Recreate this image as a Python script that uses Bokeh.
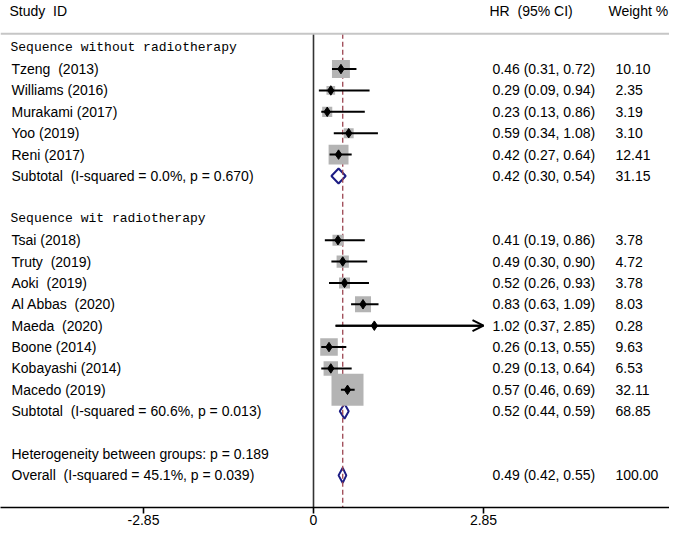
from bokeh.plotting import figure
from bokeh.models import Range1d, FixedTicker, Span, Arrow, OpenHead, LinearAxis
from bokeh.core.properties import value
from bokeh.embed import file_html
from bokeh.resources import INLINE

NB = "\u00a0"

# ---------------- data ----------------
group_labels = ["Sequence without radiotherapy", "Sequence wit radiotherapy"]
studies = ["Tzeng  (2013)", "Williams (2016)", "Murakami (2017)", "Yoo (2019)", "Reni (2017)",
           "Tsai (2018)", "Truty  (2019)", "Aoki  (2019)", "Al Abbas  (2020)", "Maeda  (2020)",
           "Boone (2014)", "Kobayashi (2014)", "Macedo (2019)"]
hr = [0.46, 0.29, 0.23, 0.59, 0.42, 0.41, 0.49, 0.52, 0.83, 1.02, 0.26, 0.29, 0.57]
lo = [0.31, 0.09, 0.13, 0.34, 0.27, 0.19, 0.30, 0.26, 0.63, 0.37, 0.13, 0.13, 0.46]
hi = [0.72, 0.94, 0.86, 1.08, 0.64, 0.86, 0.90, 0.93, 1.09, 2.85, 0.55, 0.64, 0.69]
weight = [10.10, 2.35, 3.19, 3.10, 12.41, 3.78, 4.72, 3.78, 8.03, 0.28, 9.63, 6.53, 32.11]

pooled_labels = ["Subtotal  (I-squared = 0.0%, p = 0.670)",
                 "Subtotal  (I-squared = 60.6%, p = 0.013)",
                 "Overall  (I-squared = 45.1%, p = 0.039)"]
pooled_hr = [0.42, 0.52, 0.49]
pooled_lo = [0.30, 0.44, 0.42]
pooled_hi = [0.54, 0.59, 0.55]
pooled_weight = [31.15, 68.85, 100.00]

het_label = "Heterogeneity between groups: p = 0.189"
header_labels = ["Study  ID", "HR  (95% CI)", "Weight %"]
x_ticks = [-2.85, 0, 2.85]
overall_hr = 0.49


def keep_spaces(s):
    return s.replace("  ", " " + NB)


# ---------------- layout (rows) ----------------
group_rows = [0, 8]
study_rows = [1, 2, 3, 4, 5, 9, 10, 11, 12, 13, 14, 15, 16]
pooled_rows = [6, 17, 20]
het_row = 19

W, H = 669, 527
AXIS_H = 22
FH = H - AXIS_H
PX_PER_UNIT = 59.65
ZERO_PX = 313.0
ROW_PX = 21.3
ROW0_PX = 47.0


def px_to_x(px):
    return (px - ZERO_PX) / PX_PER_UNIT


def py_to_row(py):
    return (py - ROW0_PX) / ROW_PX


x_start, x_end = px_to_x(0), px_to_x(W)
y_bottom, y_top = py_to_row(FH), py_to_row(0)
TOP_LINE_ROW = py_to_row(33)
HEADER_ROW = py_to_row(10)

p = figure(width=W, height=H, output_backend="svg", toolbar_location=None,
           x_range=Range1d(x_start, x_end), y_range=Range1d(y_bottom, y_top),
           min_border=0, x_axis_location=None, y_axis_location=None)
p.outline_line_color = None
p.xgrid.visible = False
p.ygrid.visible = False
p.background_fill_color = "white"

FONT = value("Liberation Sans")
MONO = value("Liberation Mono")
FS = "14px"

# top rule
p.add_layout(Span(location=TOP_LINE_ROW, dimension="width", line_color="#c6c6c6", line_width=2))

# vertical null line
p.segment(x0=[0], y0=[TOP_LINE_ROW], x1=[0], y1=[y_bottom], line_color="#333333", line_width=1.6)

# pooled diamonds
DIA_HALF = 7.5 / ROW_PX
xs, ys = [], []
for r, e, l, h in zip(pooled_rows, pooled_hr, pooled_lo, pooled_hi):
    xs.append([l, e, h, e])
    ys.append([r, r - DIA_HALF, r, r + DIA_HALF])
p.patches(xs, ys, fill_color=None, line_color="#1c1c84", line_width=2)

# overall dashed line
p.segment(x0=[overall_hr], y0=[TOP_LINE_ROW], x1=[overall_hr], y1=[y_bottom],
          line_color="#9c4450", line_width=1.3, line_dash="5 3")

# weight boxes
box_sizes = [5.65 * (w ** 0.5) for w in weight]
p.scatter(x=hr, y=study_rows, size=box_sizes, marker="square", fill_color="#b4b4b4",
          line_color=None)

# confidence intervals
CLIP = x_ticks[-1]
seg_hi = [min(h, CLIP) for h in hi]
p.segment(x0=lo, y0=study_rows, x1=seg_hi, y1=study_rows, line_color="black", line_width=2)
for l, h, r in zip(lo, hi, study_rows):
    if h >= CLIP:
        p.add_layout(Arrow(end=OpenHead(size=11, line_width=2, line_color="black"),
                           x_start=l, y_start=r, x_end=CLIP, y_end=r,
                           line_width=2, line_color="black"))

# point estimates
p.scatter(x=hr, y=study_rows, marker="diamond", size=9.5, fill_color="black", line_color="black")

# ---- texts ----
LX = px_to_x(11)
HRX = px_to_x(492)
WX = px_to_x(615)


def txt(xs_, ys_, labels, font=FONT, size=FS):
    p.text(x=xs_, y=ys_, text=[keep_spaces(s) for s in labels], text_font=font,
           text_font_size=size, text_baseline="middle", text_align="left", text_color="black")


txt([px_to_x(9), px_to_x(489), px_to_x(608)], [HEADER_ROW] * 3, header_labels)
txt([px_to_x(10)] * 2, group_rows, group_labels, font=MONO, size="13px")
txt([LX] * len(studies), study_rows, studies)
txt([LX] * len(pooled_labels), pooled_rows, pooled_labels)
txt([LX], [het_row], [het_label])

hr_txt = [f"{e:.2f} ({l:.2f}, {h:.2f})" for e, l, h in zip(hr, lo, hi)]
w_txt = [f"{w:.2f}" for w in weight]
txt([HRX] * len(hr_txt), study_rows, hr_txt)
txt([WX] * len(w_txt), study_rows, w_txt)
phr_txt = [f"{e:.2f} ({l:.2f}, {h:.2f})" for e, l, h in zip(pooled_hr, pooled_lo, pooled_hi)]
pw_txt = [f"{w:.2f}" for w in pooled_weight]
txt([HRX] * 3, pooled_rows, phr_txt)
txt([WX] * 3, pooled_rows, pw_txt)

# bottom axis
ax = LinearAxis(ticker=FixedTicker(ticks=x_ticks))
ax.major_label_overrides = {t: ("0" if t == 0 else f"{t:.2f}") for t in x_ticks}
ax.axis_line_color = "black"
ax.axis_line_width = 1.6
ax.major_tick_line_color = "black"
ax.major_tick_line_width = 1.6
ax.major_tick_in = 0
ax.major_tick_out = 6
ax.minor_tick_line_color = None
ax.major_label_standoff = 1
ax.major_label_text_font = "Liberation Sans"
ax.major_label_text_font_size = "14px"
ax.major_label_text_color = "black"
p.add_layout(ax, "below")

open("out.html", "w").write(file_html(p, INLINE))
